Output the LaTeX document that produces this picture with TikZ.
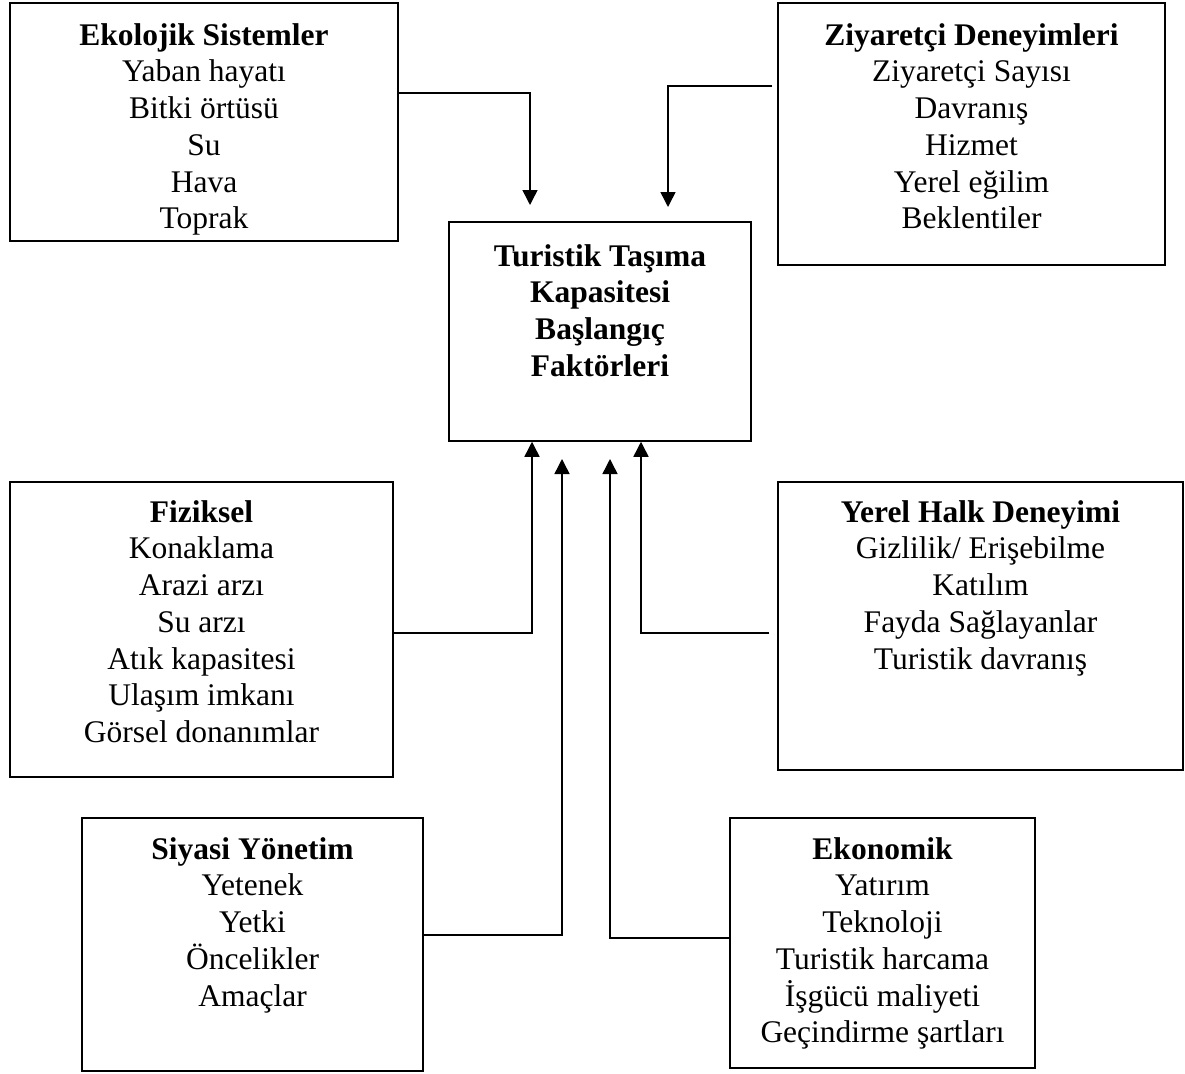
\documentclass[tikz,border=0pt]{standalone}
\usepackage{fontspec}
\setmainfont{Liberation Serif}
\usetikzlibrary{arrows.meta}
\tikzset{
  boxshape/.style={draw, line width=1.5pt, inner sep=0pt},
  txt/.style={align=center, anchor=north, inner sep=0pt, font=\fontsize{31.5}{36.7}\selectfont},
  conn/.style={line width=1.5pt, -{Triangle[width=15pt,length=15pt]}},
}
\newcommand{\fl}{\rule{0pt}{30pt}}
\begin{document}
\begin{tikzpicture}[x=1pt,y=-1pt]
\fill[white] (0,0) rectangle (1185,1073);
\useasboundingbox (0,0) rectangle (1185,1073);

% boxes
\node[boxshape, minimum width=388pt, minimum height=238pt] (eko) at (204,122) {};
\node[boxshape, minimum width=387pt, minimum height=262pt] (ziy) at (971.5,134) {};
\node[boxshape, minimum width=302pt, minimum height=219pt] (cen) at (600,331.5) {};
\node[boxshape, minimum width=383pt, minimum height=295pt] (fiz) at (201.5,629.5) {};
\node[boxshape, minimum width=405pt, minimum height=288pt] (yer) at (980.5,626) {};
\node[boxshape, minimum width=341pt, minimum height=253pt] (siy) at (252.5,944.5) {};
\node[boxshape, minimum width=305pt, minimum height=250pt] (ekn) at (882.5,943) {};

% texts
\node[txt] (ekot) at (204,15) {\fl\textbf{Ekolojik Sistemler}\\Yaban hayatı\\Bitki örtüsü\\Su\\Hava\\Toprak};
\node[txt] (ziyt) at (971.5,15) {\fl\textbf{Ziyaretçi Deneyimleri}\\Ziyaretçi Sayısı\\Davranış\\Hizmet\\Yerel eğilim\\Beklentiler};
\node[txt, font=\fontsize{31.5}{36.7}\selectfont\bfseries] (cent) at (600,236) {\fl Turistik Taşıma\\Kapasitesi\\Başlangıç\\Faktörleri};
\node[txt] (fizt) at (201.5,492) {\fl\textbf{Fiziksel}\\Konaklama\\Arazi arzı\\Su arzı\\Atık kapasitesi\\Ulaşım imkanı\\Görsel donanımlar};
\node[txt] (yert) at (980.5,492) {\fl\textbf{Yerel Halk Deneyimi}\\Gizlilik/ Erişebilme\\Katılım\\Fayda Sağlayanlar\\Turistik davranış};
\node[txt] (siyt) at (252.5,829) {\fl\textbf{Siyasi Yönetim}\\Yetenek\\Yetki\\Öncelikler\\Amaçlar};
\node[txt] (eknt) at (882.5,829) {\fl\textbf{Ekonomik}\\Yatırım\\Teknoloji\\Turistik harcama\\İşgücü maliyeti\\Geçindirme şartları};

% connector bend points and free tips
\coordinate (b1) at (530,93);  \coordinate (t1) at (530,205);
\coordinate (b2) at (668,86);  \coordinate (t2) at (668,207);
\coordinate (b3) at (532,633);
\coordinate (b4) at (562,935); \coordinate (t4) at (562,459);
\coordinate (b5) at (610,938); \coordinate (t5) at (610,459);
\coordinate (b6) at (641,633);

\draw[conn] (eko.east |- b1) -- (b1) -- (t1);
\draw[conn] ([xshift=-5pt]ziy.west |- b2) -- (b2) -- (t2);
\draw[conn] (fiz.east |- b3) -- (b3) -- (cen.south -| b3);
\draw[conn] (siy.east |- b4) -- (b4) -- (t4);
\draw[conn] (ekn.west |- b5) -- (b5) -- (t5);
\draw[conn] ([xshift=-8pt]yer.west |- b6) -- (b6) -- (cen.south -| b6);
\end{tikzpicture}
\end{document}
